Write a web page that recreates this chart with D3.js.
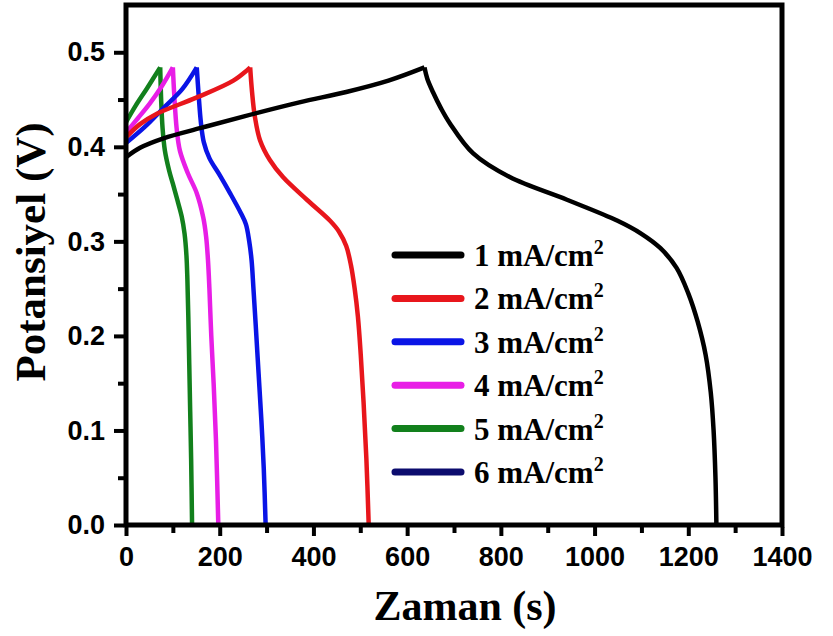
<!DOCTYPE html>
<html>
<head>
<meta charset="utf-8">
<script src="https://cdn.jsdelivr.net/npm/d3@7"></script>
<style>
  body { margin: 0; background: #fff; }
  svg { display: block; }
</style>
</head>
<body>
<svg id="chart" width="833" height="636"></svg>
<script>
// galvanostatic charge/discharge, [time s, potential V]
var curve1 = [[0, 0.389], [30, 0.399], [80, 0.409], [160, 0.420], [250, 0.432], [370, 0.447], [470, 0.458],
  [560, 0.470], [637, 0.484],
  [643, 0.472], [655, 0.458], [672, 0.441], [691, 0.425], [741, 0.393], [819, 0.368], [941, 0.344], [1048, 0.322],
  [1100, 0.308], [1140, 0.293], [1175, 0.272], [1200, 0.245], [1220, 0.215], [1237, 0.180], [1248, 0.140],
  [1254, 0.100], [1258, 0.050], [1260, 0.0]];
var curve2 = [[0, 0.410], [30, 0.424], [66, 0.435], [150, 0.452], [229, 0.470], [265, 0.484],
  [269, 0.458], [275, 0.432], [286, 0.407], [307, 0.386], [335, 0.368], [386, 0.344], [435, 0.322], [455, 0.310],
  [470, 0.295], [480, 0.275], [488, 0.250], [495, 0.220], [501, 0.180], [507, 0.130], [513, 0.070], [518, 0.0]];
var curve3 = [[0, 0.404], [40, 0.421], [80, 0.441], [120, 0.461], [151, 0.484],
  [155, 0.455], [160, 0.425], [166, 0.405], [178, 0.388], [200, 0.370], [222, 0.351], [245, 0.330], [256, 0.318],
  [263, 0.300], [268, 0.280], [272, 0.250], [277, 0.210], [283, 0.160], [289, 0.110], [294, 0.060], [298, 0.0]];
var curve4 = [[0, 0.415], [25, 0.430], [51, 0.446], [75, 0.463], [100, 0.484],
  [103, 0.455], [108, 0.420], [115, 0.396], [132, 0.372], [151, 0.351], [165, 0.325], [171, 0.305], [175, 0.280],
  [178, 0.250], [182, 0.200], [187, 0.150], [192, 0.090], [197, 0.0]];
var curve5 = [[0, 0.426], [20, 0.443], [45, 0.462], [73, 0.484],
  [75, 0.450], [78, 0.420], [83, 0.396], [92, 0.375], [100, 0.361], [110, 0.343], [119, 0.326], [125, 0.308],
  [129, 0.285], [131, 0.260], [133, 0.220], [135, 0.170], [137, 0.120], [139, 0.070], [141, 0.0]];
var curve6 = []; // listed in the legend, no visible trace

var seriesNames = ['1 mA/cm', '2 mA/cm', '3 mA/cm', '4 mA/cm', '5 mA/cm', '6 mA/cm'];
var seriesColors = ['#000000', '#e8161c', '#0a14e6', '#e81ee6', '#12801c', '#0c0c6e'];
var curves = [curve1, curve2, curve3, curve4, curve5, curve6];

var xMajor = [0, 200, 400, 600, 800, 1000, 1200, 1400];
var xMinor = [100, 300, 500, 700, 900, 1100, 1300];
var yMajor = [0.0, 0.1, 0.2, 0.3, 0.4, 0.5];
var yMinor = [0.05, 0.15, 0.25, 0.35, 0.45];

var svg = d3.select('#chart');
var x = d3.scaleLinear().domain([0, 1400]).range([126, 782]),
    y = d3.scaleLinear().domain([0, 0.55]).range([525, 5]);

var tickFont = '"Liberation Sans", Arial, sans-serif',
    serifFont = '"Liberation Serif", "Times New Roman", serif';

// curves, split at the peak so the turn-around stays sharp
var line = d3.line()
    .x(function(d) { return x(d[0]); })
    .y(function(d) { return y(d[1]); })
    .curve(d3.curveCatmullRom.alpha(0.5));

var plot = svg.append('g').attr('class', 'curves');
curves.slice().reverse().forEach(function(c, ri) {
    var i = curves.length - 1 - ri;
    if(!c.length) return;
    var peak = d3.maxIndex(c, function(d) { return d[1]; });
    [c.slice(0, peak + 1), c.slice(peak)].forEach(function(part) {
        plot.append('path')
            .attr('d', line(part))
            .attr('fill', 'none')
            .attr('stroke', seriesColors[i])
            .attr('stroke-width', 4.5)
            .attr('stroke-linejoin', 'round');
    });
});

// frame
svg.append('rect')
    .attr('x', 126).attr('y', 5)
    .attr('width', 782 - 126).attr('height', 525 - 5)
    .attr('fill', 'none').attr('stroke', '#000').attr('stroke-width', 5);

function styleAxis(g) {
    g.select('.domain').remove();
    g.selectAll('.tick line').attr('stroke', '#000').attr('stroke-width', 4);
    g.selectAll('.tick text')
        .attr('fill', '#000')
        .style('font-family', tickFont)
        .style('font-weight', 'bold')
        .style('font-size', '27px');
}

svg.append('g').attr('transform', 'translate(0,527)')
    .call(d3.axisBottom(x).tickValues(xMajor).tickSize(9).tickPadding(11).tickFormat(d3.format('d')))
    .call(styleAxis);
svg.append('g').attr('transform', 'translate(0,527)')
    .call(d3.axisBottom(x).tickValues(xMinor).tickSize(6).tickFormat(''))
    .call(styleAxis);
svg.append('g').attr('transform', 'translate(124,0)')
    .call(d3.axisLeft(y).tickValues(yMajor).tickSize(10).tickPadding(9).tickFormat(d3.format('.1f')))
    .call(styleAxis);
svg.append('g').attr('transform', 'translate(124,0)')
    .call(d3.axisLeft(y).tickValues(yMinor).tickSize(6).tickFormat(''))
    .call(styleAxis);

// axis titles
svg.append('text')
    .attr('x', 465).attr('y', 620)
    .attr('text-anchor', 'middle')
    .style('font-family', serifFont).style('font-weight', 'bold').style('font-size', '42px')
    .text('Zaman (s)');
svg.append('text')
    .attr('transform', 'translate(45,252) rotate(-90)')
    .attr('text-anchor', 'middle')
    .style('font-family', serifFont).style('font-weight', 'bold').style('font-size', '43px')
    .text('Potansiyel (V)');

// legend
var legend = svg.append('g').attr('class', 'legend');
var rowY = d3.scaleLinear().domain([0, 5]).range([255, 472]);
seriesNames.forEach(function(name, i) {
    var yy = rowY(i);
    legend.append('line')
        .attr('x1', 395).attr('x2', 461)
        .attr('y1', yy).attr('y2', yy)
        .attr('stroke', seriesColors[i]).attr('stroke-width', 7)
        .attr('stroke-linecap', 'round');
    var t = legend.append('text')
        .attr('x', 474).attr('y', yy + 11)
        .style('font-family', serifFont).style('font-weight', 'bold').style('font-size', '31px')
        .text(name);
    t.append('tspan')
        .attr('dy', -12)
        .style('font-size', '20px')
        .text('2');
});
</script>
</body>
</html>
